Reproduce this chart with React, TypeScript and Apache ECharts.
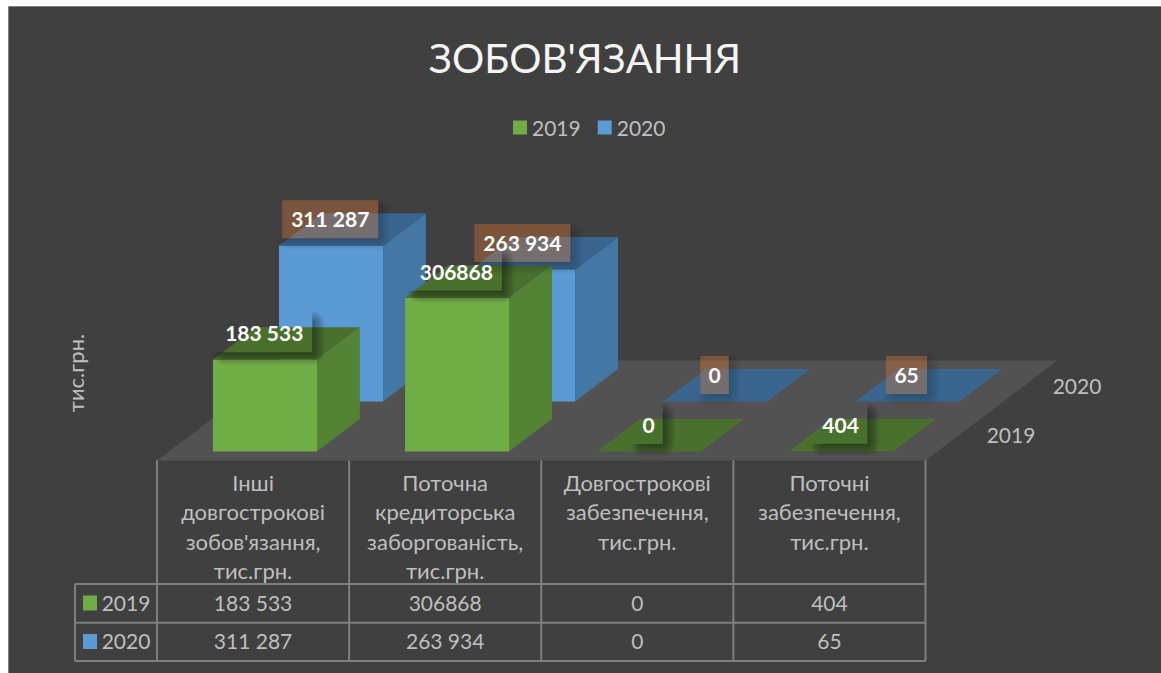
import React, { useEffect, useRef } from "react";
import * as echarts from "echarts";

const categories = [
  "Інші\nдовгострокові\nзобов'язання,\nтис.грн.",
  "Поточна\nкредиторська\nзаборгованість,\nтис.грн.",
  "Довгострокові\nзабезпечення,\nтис.грн.",
  "Поточні\nзабезпечення,\nтис.грн.",
];
const years = ["2019", "2020"];
const values2019 = [183533, 306868, 0, 404];
const values2020 = [311287, 263934, 0, 65];
const labels2019 = ["183 533", "306868", "0", "404"];
const labels2020 = ["311 287", "263 934", "0", "65"];

const FONT = "Lato, 'Noto Sans', sans-serif";
const DX = 66;
const DY = 50;
const HALF = 52;
const BAR_START = 0.18;
const BAR_DEPTH = 0.65;
const LINE = "#7f7f7f";
const TXT = "#bfbfbf";

const P2019 = { front: "#70ad47", side: "#558335", top: "#4a702e" };
const P2020 = { front: "#5b9bd5", side: "#4577a5", top: "#39658f" };

function barItem(row: number, pal: typeof P2019) {
  return (_: any, api: any) => {
    const i = api.value(0);
    const val = api.value(1);
    const base = api.coord([i, 0]);
    const top = api.coord([i, val]);
    const v0 = row + BAR_START;
    const v1 = v0 + BAR_DEPTH;
    const p = (c: number[], s: number, v: number) => [c[0] + s * HALF + DX * v, c[1] - DY * v];
    const children: any[] = [];
    if (val > 2000) {
      children.push({
        type: "polygon",
        shape: { points: [p(base, 1, v0), p(base, 1, v1), p(top, 1, v1), p(top, 1, v0)] },
        style: { fill: pal.side },
      });
    }
    children.push({
      type: "polygon",
      shape: { points: [p(top, -1, v0), p(top, 1, v0), p(top, 1, v1), p(top, -1, v1)] },
      style: { fill: pal.top },
    });
    if (val > 2000) {
      children.push({
        type: "polygon",
        shape: { points: [p(base, -1, v0), p(base, 1, v0), p(top, 1, v0), p(top, -1, v0)] },
        style: { fill: pal.front },
      });
    }
    return { type: "group", children };
  };
}

function labelItem(row: number, texts: string[], boxed: boolean) {
  return (_: any, api: any) => {
    const i = api.value(0);
    const val = api.value(1);
    const c = api.coord([i, val]);
    const v0 = row + BAR_START;
    const cx = c[0] + DX * v0 - 0.7;
    const cy = c[1] - DY * v0 - 26.5;
    const t = texts[i];
    const digits = t.replace(/ /g, "").length;
    const w = 16 + 12.5 * digits + (t.length - digits) * 5;
    const h = 38;
    const l = cx - w / 2;
    const r = cx + w / 2;
    const tp = cy - h / 2;
    const b = cy + h / 2;
    const a = boxed ? 0.2 : 0.42;
    const stops = [
      { offset: 0, color: `rgba(0,0,0,${a})` },
      { offset: 0.5, color: `rgba(0,0,0,${a * 0.55})` },
      { offset: 1, color: "rgba(0,0,0,0)" },
    ];
    const S = 13;
    const F = 9;
    const children: any[] = [
      {
        type: "rect",
        shape: { x: r, y: tp + F, width: S, height: h - F },
        style: { fill: new echarts.graphic.LinearGradient(0, 0, 1, 0, stops) },
      },
      {
        type: "rect",
        shape: { x: l + F, y: b, width: w - F, height: S },
        style: { fill: new echarts.graphic.LinearGradient(0, 0, 0, 1, stops) },
      },
      {
        type: "rect",
        shape: { x: r, y: b, width: S, height: S },
        style: { fill: new echarts.graphic.RadialGradient(0, 0, 1, stops) },
      },
      {
        type: "rect",
        shape: { x: r, y: tp + F - S, width: S, height: S },
        style: { fill: new echarts.graphic.RadialGradient(0, 1, 1, stops) },
      },
      {
        type: "rect",
        shape: { x: l + F - S, y: b, width: S, height: S },
        style: { fill: new echarts.graphic.RadialGradient(1, 0, 1, stops) },
      },
    ];
    if (boxed) {
      children.push({
        type: "rect",
        shape: { x: l, y: tp, width: w, height: h },
        style: { fill: "rgba(237,125,49,0.34)" },
      });
    }
    children.push({
      type: "text",
      style: {
        x: cx,
        y: cy - 0.5,
        text: t,
        fill: "#ffffff",
        font: `bold 21px ${FONT}`,
        align: "center",
        verticalAlign: "middle",
      },
    });
    return { type: "group", children };
  };
}

const floorItem = (_: any, api: any) => {
  const a = api.coord([0, 0]);
  const b = api.coord([categories.length - 1, 0]);
  const half = api.size([1, 0])[0] / 2;
  return {
    type: "polygon",
    shape: {
      points: [
        [a[0] - half, a[1]],
        [b[0] + half, b[1]],
        [b[0] + half + DX * 2, b[1] - DY * 2],
        [a[0] - half + DX * 2, a[1] - DY * 2],
      ],
    },
    style: { fill: "#535252" },
  };
};

const GX = 157;
const GW = 768.5;
const COL = GW / categories.length;
const RX0 = 75;
const ROWS = [584, 622.7, 661];
const HEAD_TOP = 460;

function tableGraphics() {
  const els: any[] = [];
  const line = (x1: number, y1: number, x2: number, y2: number) =>
    els.push({ type: "line", shape: { x1, y1, x2, y2 }, style: { stroke: LINE, lineWidth: 2 } });
  const text = (x: number, y: number, t: string, extra: any = {}) =>
    els.push({
      type: "text",
      x,
      y,
      style: {
        text: t,
        fill: TXT,
        font: `21px ${FONT}`,
        align: "center",
        verticalAlign: "middle",
        ...extra,
      },
    });
  for (let i = 0; i <= categories.length; i++) line(GX + i * COL, HEAD_TOP, GX + i * COL, ROWS[2]);
  line(RX0, ROWS[0], RX0, ROWS[2]);
  ROWS.forEach((y) => line(RX0, y, GX + GW, y));
  categories.forEach((c, i) => {
    text(GX + (i + 0.5) * COL, 468, c, { verticalAlign: "top", lineHeight: 29.3, font: `22px ${FONT}` });
    text(GX + (i + 0.5) * COL, 602, labels2019[i]);
    text(GX + (i + 0.5) * COL, 640.5, labels2020[i]);
  });
  [P2019, P2020].forEach((p, r) => {
    const y = r === 0 ? 603 : 641.5;
    els.push({ type: "rect", shape: { x: 83, y: y - 7.5, width: 14, height: 15 }, style: { fill: p.front } });
    text(126, y - 1, years[r]);
  });
  text(1077, 385, years[1]);
  text(1011, 434, years[0]);
  text(75, 373, "тис.грн.", { font: `22px ${FONT}` });
  els[els.length - 1].rotation = Math.PI / 2;
  return els;
}

export default function App() {
  const ref = useRef<HTMLDivElement>(null);
  useEffect(() => {
    const chart = echarts.init(ref.current!, null, { renderer: "svg" });
    const idx = categories.map((_, i) => i);
    chart.setOption({
      animation: false,
      backgroundColor: "#ffffff",
      graphic: {
        elements: [
          {
            type: "rect",
            z: -10,
            shape: { x: 8.5, y: 6.5, width: 1170, height: 690 },
            style: { fill: "#404040", stroke: LINE, lineWidth: 1 },
          },
          ...tableGraphics(),
        ],
      },
      title: {
        text: "ЗОБОВ'ЯЗАННЯ",
        left: 580,
        top: 32,
        textAlign: "center",
        textStyle: { color: "#f5f5f5", fontFamily: FONT, fontSize: 40.3, fontWeight: "normal" },
      },
      legend: {
        left: 513,
        top: 117,
        padding: 0,
        itemWidth: 14,
        itemHeight: 14,
        itemGap: 17,
        icon: "rect",
        data: years,
        textStyle: { color: TXT, fontFamily: FONT, fontSize: 21 },
      },
      grid: { left: GX, top: 110.5, width: GW, height: 350 },
      xAxis: { type: "category", data: categories, show: false },
      yAxis: { type: "value", min: 0, max: 700000, show: false },
      series: [
        {
          type: "custom",
          name: "floor",
          z: 1,
          silent: true,
          data: [[0, 0]],
          encode: { x: 0, y: 1 },
          renderItem: floorItem,
        },
        {
          type: "custom",
          name: "2020",
          z: 2,
          itemStyle: { color: P2020.front },
          data: idx.map((i) => [i, values2020[i]]),
          encode: { x: 0, y: 1 },
          renderItem: barItem(1, P2020),
        },
        {
          type: "custom",
          name: "2019",
          z: 3,
          itemStyle: { color: P2019.front },
          data: idx.map((i) => [i, values2019[i]]),
          encode: { x: 0, y: 1 },
          renderItem: barItem(0, P2019),
        },
        {
          type: "custom",
          name: "labels2020",
          z: 4,
          data: idx.map((i) => [i, values2020[i]]),
          encode: { x: 0, y: 1 },
          renderItem: labelItem(1, labels2020, true),
        },
        {
          type: "custom",
          name: "labels2019",
          z: 5,
          data: idx.map((i) => [i, values2019[i]]),
          encode: { x: 0, y: 1 },
          renderItem: labelItem(0, labels2019, false),
        },
      ],
    });
    return () => chart.dispose();
  }, []);
  return <div ref={ref} style={{ position: "fixed", left: 0, top: 0, width: 1161, height: 673 }} />;
}
